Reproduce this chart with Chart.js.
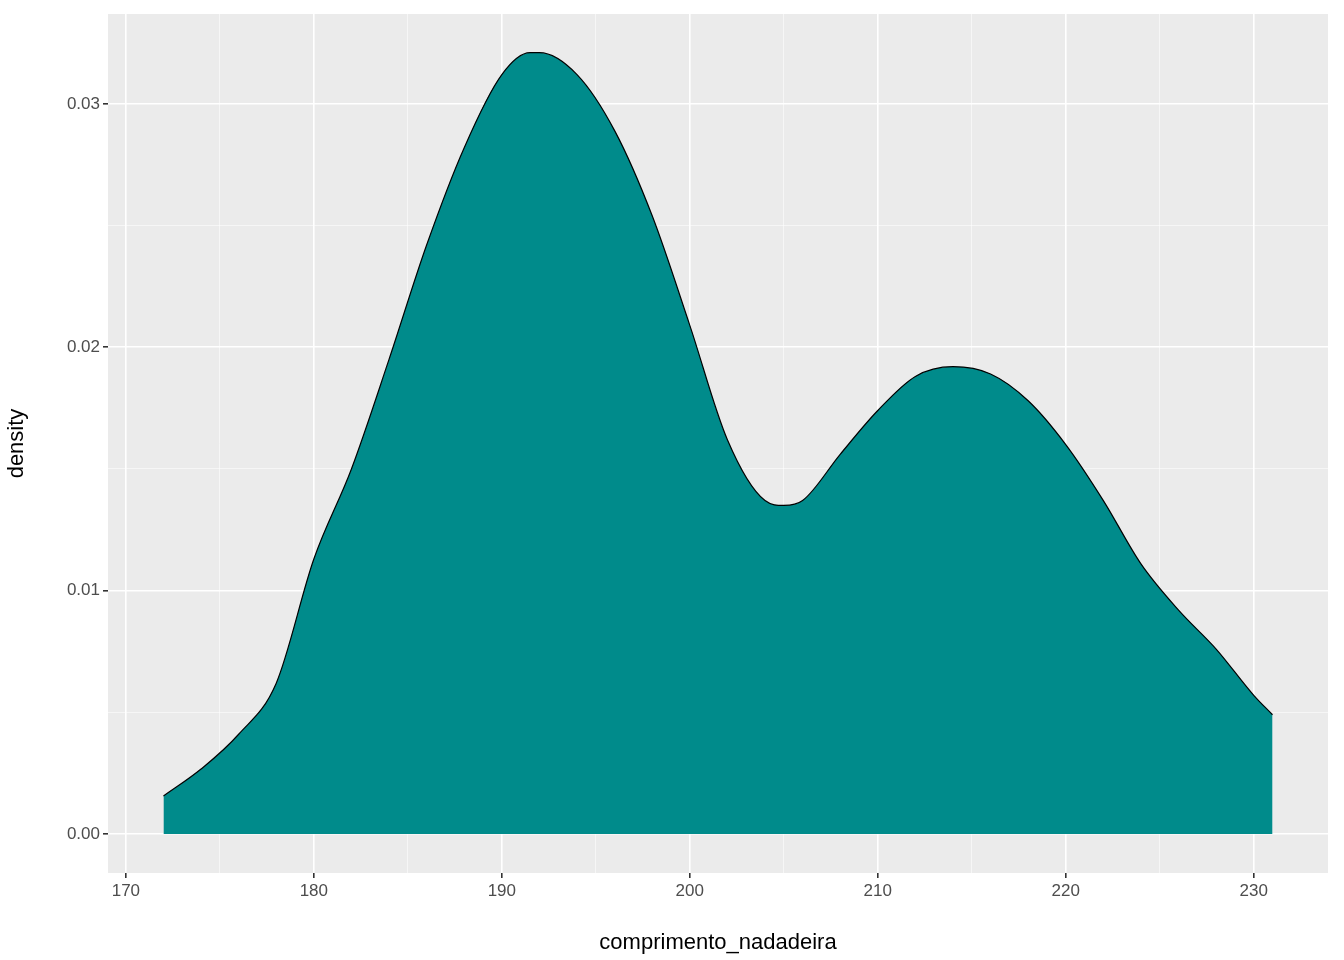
<!DOCTYPE html>
<html><head><meta charset="utf-8">
<script src="https://cdn.jsdelivr.net/npm/chart.js@4"></script>
<style>html,body{margin:0;padding:0;background:#fff}#wrap{width:1344px;height:960px}</style>
</head><body><div id="wrap"><canvas id="c" width="1344" height="960"></canvas></div>
<script>
const xValues = [172,174,176,178,180,182,184,186,188,190,191.5,192,194,196,198,200,202,204,205,206,208,210,212,214,216,218,220,222,224,226,228,230,231];
const densityValues = [0.00156,0.00267,0.0041,0.0062,0.0113,0.0150,0.0195,0.0242,0.0282,0.0312,0.0321,0.0321,0.0312,0.0289,0.0254,0.0209,0.0162,0.0137,0.0135,0.0137,0.0156,0.0174,0.0188,0.0192,0.0189,0.0178,0.0160,0.0137,0.0111,0.0092,0.0076,0.0057,0.0049];
const xTickLabels = [170,180,190,200,210,220,230];
const yTickLabels = ['0.00','0.01','0.02','0.03'];

const bg = {id:'bg',beforeDraw(ch){const a=ch.chartArea,c=ch.ctx;c.save();c.fillStyle='#EBEBEB';c.fillRect(a.left,a.top,a.right-a.left,a.bottom-a.top);c.restore();}};
const isMajorX = v => Math.abs(v/10-Math.round(v/10))<1e-6;
const isMajorY = v => Math.abs(v/0.01-Math.round(v/0.01))<1e-6;
new Chart(document.getElementById('c'),{
 type:'line',
 data:{datasets:[{data:xValues.map((x,i)=>({x,y:densityValues[i]})),borderColor:'#000',borderWidth:1.2,backgroundColor:'#008B8B',fill:'origin',pointRadius:0,tension:0.4,cubicInterpolationMode:'monotone'}]},
 options:{responsive:false,animation:false,
  layout:{padding:{top:14,right:16,left:0,bottom:0}},
  plugins:{legend:{display:false},tooltip:{enabled:false}},
  scales:{
   x:{type:'linear',min:169.05,max:233.95,afterFit(s){s.height=87;},
    afterBuildTicks(s){s.ticks=[];for(let v=170;v<=230;v+=5)s.ticks.push({value:v});},
    border:{display:false},
    grid:{color:c=>isMajorX(c.tick.value)?'#FFFFFF':'rgba(255,255,255,0.8)',lineWidth:c=>isMajorX(c.tick.value)?1.6:0.7,tickLength:5,tickColor:c=>isMajorX(c.tick.value)?'#333333':'rgba(0,0,0,0)'},
    ticks:{autoSkip:false,maxRotation:0,color:'#4D4D4D',font:{family:'Liberation Sans, Arial',size:17},padding:3,callback:v=>isMajorX(v)?String(xTickLabels.find(t=>t===Math.round(v))):''},
    title:{display:true,text:'comprimento_nadadeira',color:'#000',font:{family:'Liberation Sans, Arial',size:22},padding:{top:2}}},
   y:{type:'linear',min:-0.0016,max:0.03369,afterFit(s){s.width=108;},
    afterBuildTicks(s){s.ticks=[];for(let i=0;i<=6;i++)s.ticks.push({value:i*0.005});},
    border:{display:false},
    grid:{color:c=>isMajorY(c.tick.value)?'#FFFFFF':'rgba(255,255,255,0.8)',lineWidth:c=>isMajorY(c.tick.value)?1.6:0.7,tickLength:5,tickColor:c=>isMajorY(c.tick.value)?'#333333':'rgba(0,0,0,0)'},
    ticks:{autoSkip:false,color:'#4D4D4D',font:{family:'Liberation Sans, Arial',size:17},padding:3,callback:v=>isMajorY(v)?yTickLabels[Math.round(v/0.01)]:''},
    title:{display:true,text:'density',color:'#000',font:{family:'Liberation Sans, Arial',size:22},padding:{bottom:4}}}
  }},
 plugins:[bg]
});
</script></body></html>
